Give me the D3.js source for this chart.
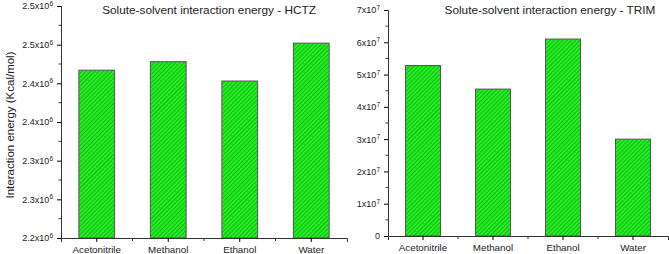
<!DOCTYPE html>
<html>
<head>
<meta charset="utf-8">
<script src="https://cdn.jsdelivr.net/npm/d3@7"></script>
<style>
  body { margin: 0; background: #fff; }
  text { font-family: "Liberation Sans", Arial, sans-serif; fill: #222; }
</style>
</head>
<body>
<div id="chart"></div>
<script>
// Solute-solvent interaction energies for the two compounds
let solvents = ["Acetonitrile", "Methanol", "Ethanol", "Water"];
let hctzValues = [2.417e6, 2.428e6, 2.403e6, 2.452e6];
let trimValues = [5.28e7, 4.55e7, 6.10e7, 3.00e7];
let hctzTicks = [2.2e6, 2.25e6, 2.3e6, 2.35e6, 2.4e6, 2.45e6, 2.5e6];
let hctzTickLabels = ["2.2", "2.3", "2.3", "2.4", "2.4", "2.5", "2.5"];
let trimTicks = [0, 1e7, 2e7, 3e7, 4e7, 5e7, 6e7, 7e7];
let trimTickLabels = ["0", "1", "2", "3", "4", "5", "6", "7"];

let svg = d3.select("#chart")
    .append("svg")
    .attr("width", 669)
    .attr("height", 254);

// hatch pattern for the bars
let defs = svg.append("defs");
let pat = defs.append("pattern")
    .attr("id", "hatch")
    .attr("patternUnits", "userSpaceOnUse")
    .attr("width", 3)
    .attr("height", 3)
    .attr("patternTransform", "rotate(45)");
pat.append("rect").attr("width", 3).attr("height", 3).attr("fill", "#22ee22");
pat.append("line")
    .attr("x1", 0).attr("y1", 0).attr("x2", 0).attr("y2", 3)
    .attr("stroke", "#0c800c")
    .attr("stroke-width", 1);

function drawPanel(opts) {
    let g = svg.append("g");

    let x = d3.scaleBand()
        .domain(solvents)
        .range([opts.left, opts.right])
        .paddingInner(0.5)
        .paddingOuter(0.25);

    let y = d3.scaleLinear()
        .domain(opts.domain)
        .range([opts.bottom, opts.top]);

    // bars
    g.selectAll("rect.bar")
        .data(opts.values)
        .enter()
        .append("rect")
            .attr("class", "bar")
            .attr("x", (d, i) => x(solvents[i]))
            .attr("y", d => y(d))
            .attr("width", x.bandwidth())
            .attr("height", d => opts.bottom - y(d))
            .attr("fill", "url(#hatch)")
            .attr("stroke", "#555")
            .attr("stroke-width", 1);

    // x axis
    let xAxis = g.append("g")
        .attr("transform", "translate(0," + opts.bottom + ")")
        .call(d3.axisBottom(x).tickSizeOuter(0).tickSize(4).tickPadding(4));
    xAxis.select(".domain").attr("stroke", "#333");
    xAxis.selectAll("text").style("font-size", "9.8px").attr("fill", "#222");
    // minor ticks between categories
    let step = x.step();
    let minorX = solvents.slice(1).map(s => x(s) + x.bandwidth() / 2 - step / 2);
    xAxis.selectAll("line.minor")
        .data(minorX)
        .enter()
        .append("line")
            .attr("class", "minor")
            .attr("x1", d => d).attr("x2", d => d)
            .attr("y1", 0).attr("y2", 3)
            .attr("stroke", "#333");

    // y axis
    let yAxis = g.append("g")
        .attr("transform", "translate(" + opts.left + ",0)")
        .call(d3.axisLeft(y).tickValues(opts.ticks).tickSizeOuter(0).tickSize(4).tickPadding(4).tickFormat(() => ""));
    yAxis.select(".domain").attr("stroke", "#333");
    yAxis.selectAll(".tick text").each(function(d, i) {
        let t = d3.select(this).style("font-size", "9px").attr("fill", "#333");
        let lab = opts.tickLabels[i];
        if (lab === "0") {
            t.text("0");
        } else {
            t.append("tspan").text(lab + "x10");
            t.append("tspan").text(opts.exp).attr("dy", "-0.5em").style("font-size", "6.5px");
        }
    });
    // minor ticks halfway between majors
    let minorY = opts.ticks.slice(1).map((d, i) => (d + opts.ticks[i]) / 2);
    yAxis.selectAll("line.minor")
        .data(minorY)
        .enter()
        .append("line")
            .attr("class", "minor")
            .attr("x1", -2.5).attr("x2", 0)
            .attr("y1", d => y(d)).attr("y2", d => y(d))
            .attr("stroke", "#333");

    // title
    g.append("text")
        .attr("x", opts.titleX)
        .attr("y", 14)
        .attr("text-anchor", "middle")
        .style("font-size", "11.8px")
        .text(opts.title);
}

drawPanel({
    left: 61, right: 347, top: 6, bottom: 238,
    domain: [2.2e6, 2.5e6],
    values: hctzValues,
    ticks: hctzTicks,
    tickLabels: hctzTickLabels,
    exp: "6",
    title: "Solute-solvent interaction energy - HCTZ",
    titleX: 209
});

drawPanel({
    left: 388, right: 668, top: 10, bottom: 236,
    domain: [0, 7e7],
    values: trimValues,
    ticks: trimTicks,
    tickLabels: trimTickLabels,
    exp: "7",
    title: "Solute-solvent interaction energy - TRIM",
    titleX: 550
});

// y axis title of the left panel
svg.append("text")
    .attr("transform", "translate(14,125) rotate(-90)")
    .attr("text-anchor", "middle")
    .style("font-size", "11.5px")
    .text("Interaction energy (Kcal/mol)");
</script>
</body>
</html>
